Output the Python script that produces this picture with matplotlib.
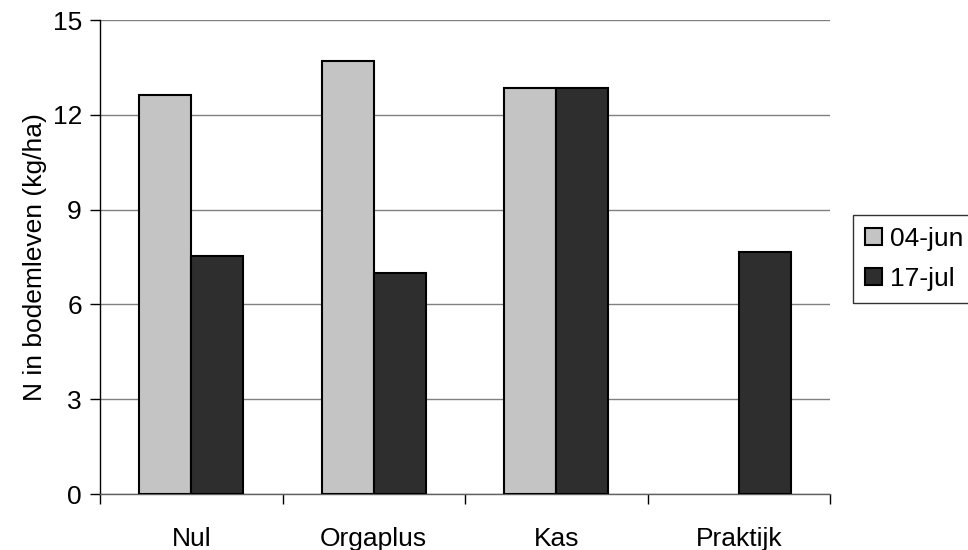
import matplotlib
matplotlib.use("Agg")
import matplotlib.pyplot as plt
import numpy as np

categories = ["Nul", "Orgaplus", "Kas", "Praktijk"]
series_names = ["04-jun", "17-jul"]
jun_values = [12.63, 13.70, 12.85, 0.0]
jul_values = [7.53, 6.99, 12.85, 7.66]
yticks = [0, 3, 6, 9, 12, 15]

plt.rcParams['font.family'] = ['Liberation Sans', 'DejaVu Sans']

fig = plt.figure(figsize=(9.68, 5.5), dpi=100)
ax = fig.add_axes([100/968, 1-494/550, 730/968, 474/550])

x = np.arange(len(categories))
w = 0.285
b1 = ax.bar(x - w/2, jun_values, w, color="#c4c4c4", edgecolor="black", linewidth=1.5,
            label=series_names[0], zorder=3)
b2 = ax.bar(x + w/2, jul_values, w, color="#2e2e2e", edgecolor="black", linewidth=1.5,
            label=series_names[1], zorder=3)
for r, v in zip(b1, jun_values):
    if v == 0:
        r.set_visible(False)

ax.set_xlim(-0.5, len(categories) - 0.5)
ax.set_ylim(0, 15)
ax.set_yticks(yticks)
ax.set_yticklabels([str(t) for t in yticks], fontsize=19)
ax.yaxis.grid(True, color="#808080", linewidth=1, zorder=0)
ax.set_axisbelow(True)

ax.set_xticks(x)
ax.set_xticklabels(categories, fontsize=19)
ax.tick_params(axis='x', length=0, pad=24)
ax.set_xticks(np.arange(-0.5, len(categories)), minor=True)
ax.tick_params(axis='x', which='minor', length=7, width=1, color="black", direction='out')
ax.tick_params(axis='y', length=7, width=1, direction='out', pad=6)

for s in ["top", "right"]:
    ax.spines[s].set_visible(False)
ax.spines["left"].set_color("black")
ax.spines["bottom"].set_color("#606060")
ax.spines["left"].set_linewidth(1)
ax.spines["bottom"].set_linewidth(1)

ax.set_ylabel("N in bodemleven (kg/ha)", fontsize=19)
ax.yaxis.set_label_coords(-(100-47)/730, 0.5)

leg = fig.legend(handles=[b1, b2], labels=series_names, loc="upper left",
                 bbox_to_anchor=(853/968, 1-215/550), fontsize=19, frameon=True,
                 fancybox=False, edgecolor="black", handlelength=0.65, handleheight=0.65,
                 handletextpad=0.3, borderpad=0.45, labelspacing=0.6, borderaxespad=0)
leg.get_frame().set_linewidth(1)

fig.savefig("out.png", dpi=100)
